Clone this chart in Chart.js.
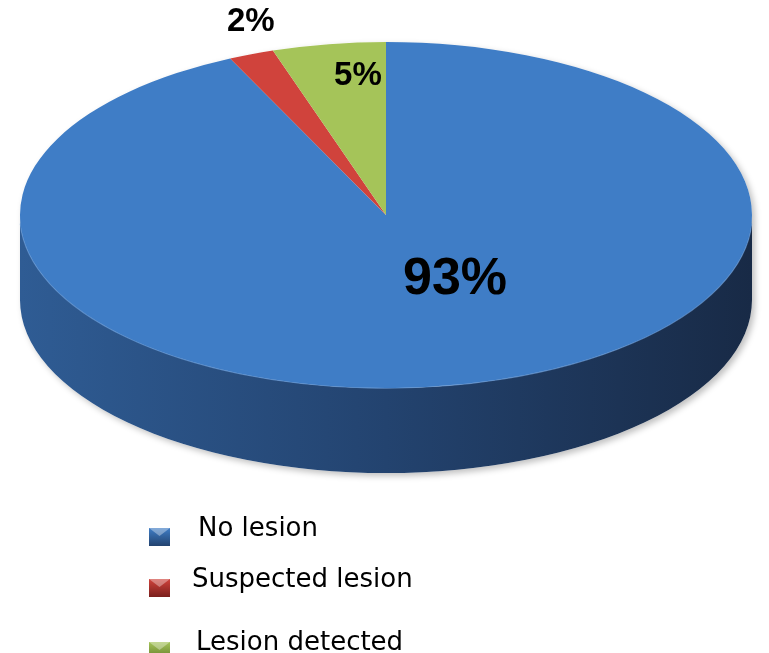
<!DOCTYPE html>
<html>
<head>
<meta charset="utf-8">
<script src="https://cdn.jsdelivr.net/npm/chart.js@4.4.0/dist/chart.umd.min.js"></script>
<style>
  html, body { margin: 0; background: #fff; }
  #wrap { position: relative; width: 769px; height: 653px; }
</style>
</head>
<body>
<div id="wrap"><canvas id="chartPie"></canvas></div>
<script>
// Data
const labels = ["No lesion", "Suspected lesion", "Lesion detected"];
const values = [93, 2, 5];

// Styles
const TOP = [["#3f7dc6", "#3464a4"], ["#d0433c", "#b3302c"], ["#a5c459", "#90ae40"]];
const SIDE = [["#2f5c94", "#23436f", "#182a46"], ["#9a2a26", "#7a1f1c", "#5a1614"], ["#7d9a36", "#627a2a", "#4a5c20"]];
const CX = 386, CY = 215, RX = 366, RY = 173, DEPTH = 85;
const LABEL_DIST = [0.42, 1.175, 0.807];
const LABEL_TURN = [-0.246, 0.057, 0.062];
const LABEL_SIZE = [52, 33, 33];
const LEGEND_Y = [536, 587, 650];
const LEGEND_TX = [198, 192, 196];

function topFill(c) {
  const chart = c.chart;
  const a = chart.getDatasetMeta(0).data[c.dataIndex];
  if (!a || !a.outerRadius) return TOP[c.dataIndex][0];
  const g = chart.ctx.createLinearGradient(0, a.y - a.outerRadius, 0, a.y + a.outerRadius);
  g.addColorStop(0, TOP[c.dataIndex][0]);
  g.addColorStop(1, TOP[c.dataIndex][1]);
  return g;
}

function drawSides(ctx, arcs) {
  const fronts = [[0, Math.PI], [2 * Math.PI, 3 * Math.PI], [-2 * Math.PI, -Math.PI]];
  // soft shadow
  ctx.save();
  ctx.shadowColor = "rgba(0,0,0,0.25)";
  ctx.shadowBlur = 6;
  ctx.shadowOffsetX = 3;
  ctx.shadowOffsetY = 3;
  ctx.beginPath();
  ctx.ellipse(CX, CY + DEPTH, RX, RY, 0, 0, Math.PI);
  ctx.lineTo(CX - RX, CY);
  ctx.ellipse(CX, CY, RX, RY, 0, Math.PI, 2 * Math.PI);
  ctx.closePath();
  ctx.fillStyle = "#fff";
  ctx.fill();
  ctx.restore();
  arcs.forEach((a, i) => {
    fronts.forEach(([f0, f1]) => {
      const s = Math.max(a.startAngle, f0), e = Math.min(a.endAngle, f1);
      if (e <= s) return;
      const g = ctx.createLinearGradient(CX - RX, 0, CX + RX, 0);
      g.addColorStop(0, SIDE[i][0]);
      g.addColorStop(0.5, SIDE[i][1]);
      g.addColorStop(1, SIDE[i][2]);
      ctx.beginPath();
      ctx.ellipse(CX, CY, RX, RY, 0, s, e);
      ctx.ellipse(CX, CY + DEPTH, RX, RY, 0, e, s, true);
      ctx.closePath();
      ctx.fillStyle = g;
      ctx.fill();
    });
  });
  // rim highlight
  ctx.beginPath();
  ctx.ellipse(CX, CY, RX, RY, 0, 0.05, Math.PI - 0.05);
  ctx.strokeStyle = "rgba(110,160,220,0.7)";
  ctx.lineWidth = 1.5;
  ctx.stroke();
}

const pie3d = {
  id: "pie3d",
  beforeDatasetsDraw(chart) {
    const ctx = chart.ctx;
    const arcs = chart.getDatasetMeta(0).data;
    const a0 = arcs[0];
    drawSides(ctx, arcs);
    ctx.save();
    ctx.translate(CX, CY);
    ctx.scale(RX / a0.outerRadius, RY / a0.outerRadius);
    ctx.translate(-a0.x, -a0.y);
  },
  afterDatasetsDraw(chart) {
    const ctx = chart.ctx;
    ctx.restore();
    const arcs = chart.getDatasetMeta(0).data;
    const total = values.reduce((s, v) => s + v, 0);
    // percentage labels
    ctx.save();
    ctx.fillStyle = "#000";
    ctx.textAlign = "center";
    ctx.textBaseline = "middle";
    arcs.forEach((a, i) => {
      const mid = (a.startAngle + a.endAngle) / 2 + LABEL_TURN[i];
      const x = CX + RX * LABEL_DIST[i] * Math.cos(mid);
      const y = CY + RY * LABEL_DIST[i] * Math.sin(mid);
      ctx.font = `bold ${LABEL_SIZE[i]}px "Liberation Sans", Arial, sans-serif`;
      ctx.fillText(Math.round(values[i] / total * 100) + "%", x, y);
    });
    // legend
    ctx.textAlign = "left";
    ctx.textBaseline = "alphabetic";
    ctx.font = '26px "DejaVu Sans", Verdana, sans-serif';
    labels.forEach((lab, i) => {
      const y = LEGEND_Y[i];
      const g = ctx.createLinearGradient(0, y - 8, 0, y + 10);
      g.addColorStop(0, TOP[i][0]);
      g.addColorStop(1, SIDE[i][1]);
      ctx.fillStyle = g;
      ctx.fillRect(149, y - 8, 21, 18);
      ctx.fillStyle = "rgba(255,255,255,0.35)";
      ctx.beginPath();
      ctx.moveTo(149, y - 8); ctx.lineTo(170, y - 8); ctx.lineTo(159.5, y); ctx.closePath();
      ctx.fill();
      ctx.fillStyle = "#000";
      ctx.fillText(lab, LEGEND_TX[i], y);
    });
    ctx.restore();
  }
};

new Chart(document.getElementById("chartPie"), {
  type: "pie",
  data: {
    labels: labels,
    datasets: [{
      data: values,
      backgroundColor: topFill,
      borderWidth: 0,
    }],
  },
  options: {
    responsive: true,
    maintainAspectRatio: false,
    animation: false,
    plugins: {
      legend: { display: false },
      tooltip: { enabled: false },
    },
  },
  plugins: [pie3d],
});
</script>
</body>
</html>
